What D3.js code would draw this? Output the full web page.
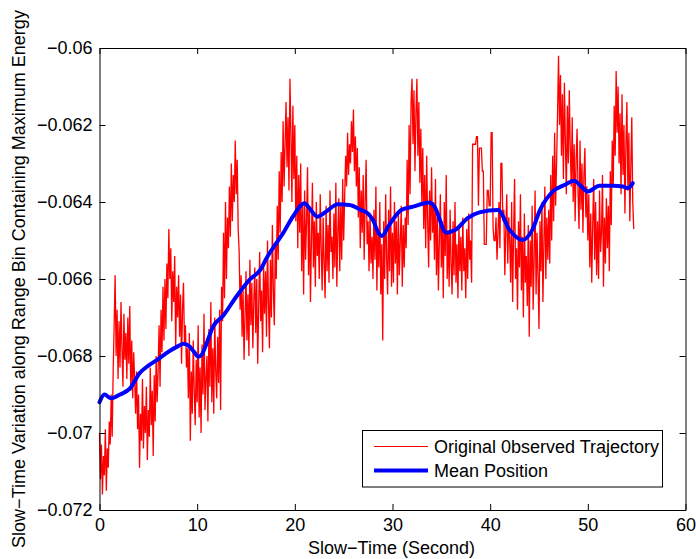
<!DOCTYPE html>
<html>
<head>
<meta charset="utf-8">
<script src="https://cdn.jsdelivr.net/npm/d3@7"></script>
<style>
  html, body { margin: 0; padding: 0; background: #ffffff; }
  svg { display: block; font-family: "Liberation Sans", Arial, Helvetica, sans-serif; }
</style>
</head>
<body>
<svg id="chart" width="696" height="559"></svg>
<script>
// ---------------- DATA ----------------
const xTicks = [0, 10, 20, 30, 40, 50, 60];
const xTickLabels = ["0", "10", "20", "30", "40", "50", "60"];
const yTicks = [-0.072, -0.07, -0.068, -0.066, -0.064, -0.062, -0.06];
const yTickLabels = ["\u22120.072", "\u22120.07", "\u22120.068", "\u22120.066", "\u22120.064", "\u22120.062", "\u22120.06"];
const xTitle = "Slow\u2212Time (Second)";
const yTitle = "Slow\u2212Time Variation along Range Bin Containing Maximum Energy";
const seriesNames = ["Original 0bserved Trajectory", "Mean Position"];

// observed trajectory, one sample every 0.1 s starting at t = 0
const sampleInterval = 0.1;
const observed = [
 -0.0700,-0.0712,-0.0703,-0.0716,-0.0706,-0.0711,-0.0699,-0.0715,-0.0704,-0.0709,
 -0.0697,-0.0703,-0.0690,-0.0701,-0.0684,-0.0672,-0.0659,-0.0680,-0.0668,-0.0686,
 -0.0671,-0.0683,-0.0666,-0.0678,-0.0688,-0.0669,-0.0681,-0.0674,-0.0686,-0.0670,
 -0.0682,-0.0667,-0.0689,-0.0676,-0.0691,-0.0679,-0.0686,-0.0695,-0.0684,-0.0699,
 -0.0690,-0.0709,-0.0695,-0.0702,-0.0686,-0.0704,-0.0693,-0.0700,-0.0688,-0.0707,
 -0.0694,-0.0701,-0.0683,-0.0698,-0.0689,-0.0706,-0.0685,-0.0697,-0.0680,-0.0692,
 -0.0684,-0.0672,-0.0688,-0.0668,-0.0679,-0.0662,-0.0676,-0.0660,-0.0673,-0.0656,
 -0.0665,-0.0647,-0.0660,-0.0652,-0.0671,-0.0658,-0.0666,-0.0654,-0.0678,-0.0662,
 -0.0670,-0.0659,-0.0675,-0.0664,-0.0682,-0.0668,-0.0661,-0.0677,-0.0672,-0.0683,
 -0.0678,-0.0691,-0.0674,-0.0702,-0.0684,-0.0695,-0.0676,-0.0689,-0.0698,-0.0681,
 -0.0692,-0.0672,-0.0696,-0.0683,-0.0700,-0.0677,-0.0690,-0.0669,-0.0694,-0.0686,
 -0.0680,-0.0697,-0.0673,-0.0688,-0.0666,-0.0692,-0.0678,-0.0695,-0.0670,-0.0684,
 -0.0691,-0.0675,-0.0687,-0.0668,-0.0694,-0.0662,-0.0671,-0.0648,-0.0665,-0.0640,
 -0.0660,-0.0644,-0.0652,-0.0636,-0.0649,-0.0630,-0.0645,-0.0633,-0.0640,-0.0624,
 -0.0638,-0.0629,-0.0647,-0.0653,-0.0668,-0.0659,-0.0675,-0.0663,-0.0681,-0.0670,
 -0.0658,-0.0676,-0.0664,-0.0680,-0.0655,-0.0672,-0.0661,-0.0678,-0.0666,-0.0657,
 -0.0674,-0.0660,-0.0682,-0.0667,-0.0653,-0.0671,-0.0663,-0.0679,-0.0656,-0.0669,
 -0.0658,-0.0675,-0.0650,-0.0666,-0.0678,-0.0655,-0.0670,-0.0646,-0.0663,-0.0672,
 -0.0651,-0.0660,-0.0641,-0.0655,-0.0632,-0.0648,-0.0627,-0.0640,-0.0619,-0.0636,
 -0.0625,-0.0614,-0.0631,-0.0618,-0.0637,-0.0608,-0.0622,-0.0640,-0.0615,-0.0634,
 -0.0620,-0.0645,-0.0628,-0.0652,-0.0633,-0.0648,-0.0630,-0.0658,-0.0641,-0.0664,
 -0.0637,-0.0655,-0.0645,-0.0631,-0.0659,-0.0642,-0.0666,-0.0650,-0.0635,-0.0657,
 -0.0645,-0.0662,-0.0640,-0.0654,-0.0648,-0.0660,-0.0638,-0.0652,-0.0663,-0.0644,
 -0.0656,-0.0665,-0.0641,-0.0658,-0.0646,-0.0661,-0.0637,-0.0653,-0.0649,-0.0660,
 -0.0643,-0.0657,-0.0635,-0.0662,-0.0648,-0.0639,-0.0658,-0.0641,-0.0655,-0.0634,
 -0.0650,-0.0639,-0.0628,-0.0636,-0.0622,-0.0633,-0.0625,-0.0630,-0.0619,-0.0627,
 -0.0616,-0.0632,-0.0623,-0.0636,-0.0626,-0.0644,-0.0631,-0.0652,-0.0637,-0.0648,
 -0.0633,-0.0655,-0.0640,-0.0629,-0.0651,-0.0645,-0.0658,-0.0643,-0.0656,-0.0649,
 -0.0660,-0.0642,-0.0655,-0.0636,-0.0663,-0.0648,-0.0657,-0.0640,-0.0664,-0.0651,
 -0.0676,-0.0645,-0.0660,-0.0638,-0.0655,-0.0664,-0.0642,-0.0658,-0.0636,-0.0662,
 -0.0648,-0.0661,-0.0640,-0.0656,-0.0645,-0.0664,-0.0643,-0.0659,-0.0650,-0.0641,
 -0.0662,-0.0646,-0.0657,-0.0644,-0.0652,-0.0629,-0.0646,-0.0620,-0.0638,-0.0614,
 -0.0608,-0.0625,-0.0611,-0.0632,-0.0617,-0.0608,-0.0628,-0.0614,-0.0635,-0.0621,
 -0.0640,-0.0626,-0.0647,-0.0633,-0.0652,-0.0628,-0.0645,-0.0657,-0.0637,-0.0650,
 -0.0631,-0.0648,-0.0640,-0.0655,-0.0634,-0.0659,-0.0644,-0.0663,-0.0650,-0.0638,
 -0.0657,-0.0645,-0.0665,-0.0640,-0.0654,-0.0633,-0.0660,-0.0648,-0.0662,-0.0642,
 -0.0656,-0.0664,-0.0645,-0.0659,-0.0640,-0.0661,-0.0651,-0.0665,-0.0646,-0.0658,
 -0.0649,-0.0663,-0.0644,-0.0658,-0.0652,-0.0665,-0.0647,-0.0660,-0.0643,-0.0655,
 -0.0650,-0.0661,-0.0625,-0.0625,-0.0625,-0.0625,-0.0623,-0.0623,-0.0641,-0.0626,
 -0.0626,-0.0626,-0.0632,-0.0632,-0.0651,-0.0651,-0.0651,-0.0637,-0.0637,-0.0641,
 -0.0641,-0.0622,-0.0622,-0.0647,-0.0650,-0.0650,-0.0644,-0.0655,-0.0648,-0.0640,
 -0.0652,-0.0630,-0.0630,-0.0645,-0.0642,-0.0659,-0.0647,-0.0638,-0.0656,-0.0644,
 -0.0650,-0.0661,-0.0640,-0.0666,-0.0648,-0.0634,-0.0660,-0.0652,-0.0668,-0.0645,
 -0.0657,-0.0638,-0.0663,-0.0649,-0.0670,-0.0643,-0.0661,-0.0654,-0.0667,-0.0646,
 -0.0675,-0.0650,-0.0662,-0.0641,-0.0668,-0.0655,-0.0637,-0.0664,-0.0648,-0.0659,
 -0.0673,-0.0645,-0.0658,-0.0640,-0.0666,-0.0651,-0.0636,-0.0660,-0.0644,-0.0655,
 -0.0642,-0.0656,-0.0633,-0.0650,-0.0628,-0.0645,-0.0622,-0.0641,-0.0630,-0.0617,
 -0.0602,-0.0620,-0.0607,-0.0628,-0.0612,-0.0634,-0.0609,-0.0624,-0.0638,-0.0615,
 -0.0630,-0.0611,-0.0626,-0.0636,-0.0618,-0.0640,-0.0625,-0.0645,-0.0629,-0.0621,
 -0.0638,-0.0647,-0.0624,-0.0642,-0.0630,-0.0648,-0.0633,-0.0626,-0.0644,-0.0636,
 -0.0650,-0.0638,-0.0657,-0.0643,-0.0661,-0.0646,-0.0634,-0.0655,-0.0640,-0.0659,
 -0.0645,-0.0660,-0.0637,-0.0653,-0.0648,-0.0633,-0.0662,-0.0644,-0.0656,-0.0639,
 -0.0652,-0.0641,-0.0658,-0.0632,-0.0646,-0.0624,-0.0636,-0.0615,-0.0628,-0.0606,
 -0.0622,-0.0610,-0.0630,-0.0617,-0.0638,-0.0612,-0.0633,-0.0620,-0.0643,-0.0625,
 -0.0614,-0.0637,-0.0622,-0.0645,-0.0631,-0.0618,-0.0640,-0.0647
];

// mean position (smoothed), time in seconds and value
const meanTime = [0.0, 0.5, 1.2, 2.1, 3.1, 4.1, 5.0, 5.9, 7.0, 8.0, 8.6, 9.2, 9.7, 10.1, 10.5, 10.9,
  11.6, 12.7, 14.0, 15.4, 16.5, 17.1, 18.1, 18.8, 19.8, 21.0, 21.6, 22.3, 23.2, 24.4, 25.6, 26.8,
  27.5, 28.0, 28.6, 28.9, 29.7, 30.9, 32.1, 33.8, 34.3, 35.5, 36.4, 37.7, 38.9, 40.8, 42.0, 43.3,
  44.3, 45.1, 46.4, 47.6, 48.6, 49.2, 50.0, 51.2, 52.6, 53.6, 54.1, 54.6];
const meanValue = [-0.0692, -0.0690, -0.0691, -0.0690, -0.06885, -0.06845, -0.06825, -0.0681, -0.0679, -0.06775,
  -0.06768, -0.06775, -0.0679, -0.06802, -0.06795, -0.06772, -0.06725, -0.06694, -0.06646, -0.06601,
  -0.06575, -0.06546, -0.06507, -0.06481, -0.06438, -0.06403, -0.0642, -0.06438, -0.06425, -0.06406,
  -0.06408, -0.06421, -0.0643, -0.06447, -0.06482, -0.06488, -0.06458, -0.06421, -0.06412, -0.06401,
  -0.06412, -0.06480, -0.06473, -0.06442, -0.06427, -0.06421, -0.06473, -0.06499, -0.06473, -0.06421,
  -0.06373, -0.06356, -0.06345, -0.06356, -0.06373, -0.06358, -0.06358, -0.06360, -0.06364, -0.06351];

// ---------------- CHART ----------------
const svg = d3.select("#chart");
const plot = { left: 99.5, right: 685.5, top: 48, bottom: 510 };
const FONT = 18;

const x = d3.scaleLinear().domain([0, 60]).range([plot.left, plot.right]);
const y = d3.scaleLinear().domain([-0.072, -0.06]).range([plot.bottom, plot.top]);

svg.append("rect").attr("width", 696).attr("height", 559).attr("fill", "#ffffff");

const obsData = observed.map((v, i) => ({ t: i * sampleInterval, v }));
const meanData = meanTime.map((t, i) => ({ t, v: meanValue[i] }));

const line = d3.line().x(d => x(d.t)).y(d => y(d.v));

svg.append("path")
  .datum(obsData)
  .attr("d", line)
  .attr("fill", "none")
  .attr("stroke", "#ff0000")
  .attr("stroke-width", 1.3)
  .attr("stroke-linejoin", "miter");

svg.append("path")
  .datum(meanData)
  .attr("d", line.curve(d3.curveMonotoneX))
  .attr("fill", "none")
  .attr("stroke", "#0000ff")
  .attr("stroke-width", 4)
  .attr("stroke-linejoin", "round")
  .attr("stroke-linecap", "round");

// axes (MATLAB style: ticks inward on all four sides)
const TICK = 6;
function styleAxis(g) {
  g.selectAll(".domain").attr("stroke", "#000").attr("stroke-width", 1);
  g.selectAll(".tick line").attr("stroke", "#000").attr("stroke-width", 1);
  g.selectAll(".tick text").attr("fill", "#000").style("font-size", FONT + "px")
    .style("font-family", '"Liberation Sans", Arial, sans-serif');
}

const gxb = svg.append("g").attr("transform", `translate(0,${plot.bottom})`)
  .call(d3.axisBottom(x).tickValues(xTicks).tickFormat((d, i) => xTickLabels[i])
    .tickSizeInner(-TICK).tickSizeOuter(0).tickPadding(7));
styleAxis(gxb);
gxb.selectAll(".tick text").attr("dy", "0.71em").attr("y", 8);

const gxt = svg.append("g").attr("transform", `translate(0,${plot.top})`)
  .call(d3.axisTop(x).tickValues(xTicks).tickFormat("").tickSizeInner(-TICK).tickSizeOuter(0));
styleAxis(gxt);

const gyl = svg.append("g").attr("transform", `translate(${plot.left},0)`)
  .call(d3.axisLeft(y).tickValues(yTicks).tickFormat((d, i) => yTickLabels[i])
    .tickSizeInner(-TICK).tickSizeOuter(0).tickPadding(7));
styleAxis(gyl);

const gyr = svg.append("g").attr("transform", `translate(${plot.right},0)`)
  .call(d3.axisRight(y).tickValues(yTicks).tickFormat("").tickSizeInner(-TICK).tickSizeOuter(0));
styleAxis(gyr);

// axis titles
svg.append("text")
  .attr("x", (plot.left + plot.right) / 2 - 1)
  .attr("y", 554)
  .attr("text-anchor", "middle")
  .style("font-size", FONT + "px")
  .attr("fill", "#000")
  .text(xTitle);

svg.append("text")
  .attr("transform", `translate(25,${(plot.top + plot.bottom) / 2}) rotate(-90)`)
  .attr("text-anchor", "middle")
  .style("font-size", FONT + "px")
  .attr("fill", "#000")
  .text(yTitle);

// legend
const legend = svg.append("g");
legend.append("rect")
  .attr("x", 362.5).attr("y", 430.5)
  .attr("width", 300).attr("height", 56.5)
  .attr("fill", "#ffffff").attr("stroke", "#000").attr("stroke-width", 1);

const legendItems = [
  { name: seriesNames[0], color: "#ff0000", width: 1, yLine: 446.5, yText: 453 },
  { name: seriesNames[1], color: "#0000ff", width: 4, yLine: 470.5, yText: 477 }
];
legendItems.forEach(it => {
  legend.append("line")
    .attr("x1", 374).attr("x2", 428)
    .attr("y1", it.yLine).attr("y2", it.yLine)
    .attr("stroke", it.color).attr("stroke-width", it.width);
  legend.append("text")
    .attr("x", 434).attr("y", it.yText)
    .style("font-size", FONT + "px")
    .attr("fill", "#000")
    .text(it.name);
});
</script>
</body>
</html>
